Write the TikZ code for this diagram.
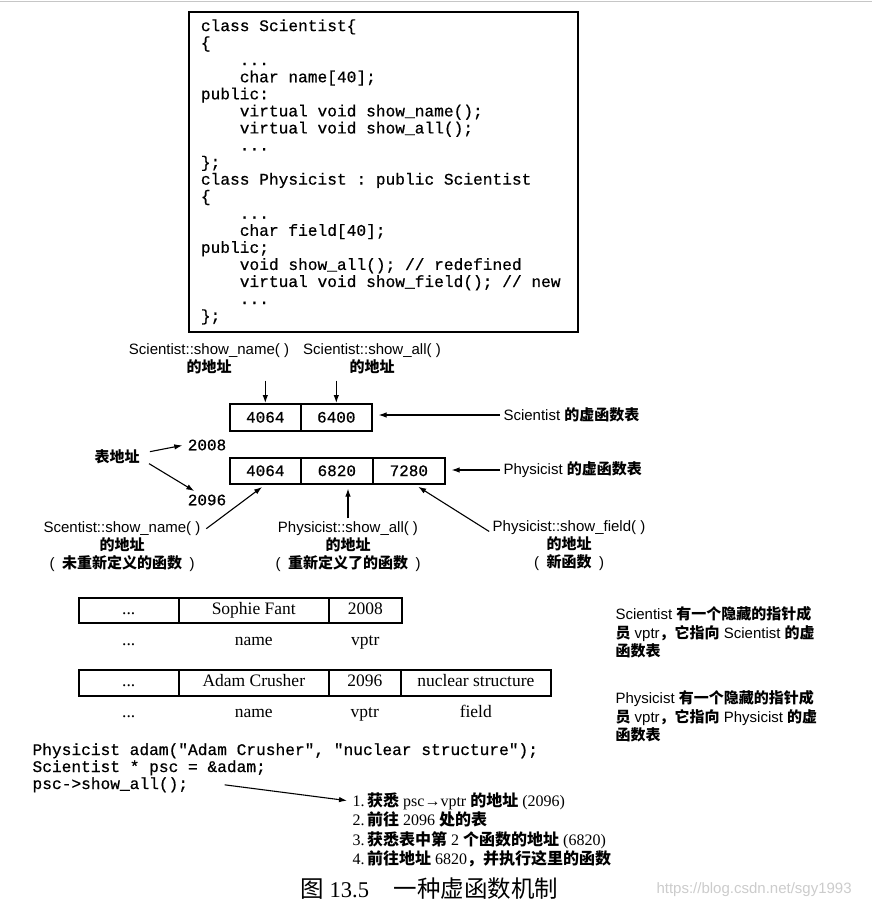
\documentclass[tikz,border=0pt]{standalone}
\usepackage{fontspec}
\usetikzlibrary{arrows.meta,positioning}
\newfontfamily\fsans{Liberation Sans}
\newfontfamily\fserif{Liberation Serif}
\newfontfamily\fcode{Liberation Mono}[FakeBold=0.6]
\newfontfamily\fzh{Noto Sans CJK SC}
\newcommand\zh[1]{{\fzh\bfseries #1}}
\newcommand\sk{\hspace*{0.6em}}
\newcommand\ind{\sk\sk\sk\sk}
\begin{document}
\begin{tikzpicture}[x=1pt, y=-1pt,
  arr/.style={-{Latex[length=8pt,width=5.5pt]}, line width=1.1pt},
  codetxt/.style={font=\fcode\fontsize{16.2}{17.06}\selectfont},
  num/.style={font=\fcode\fontsize{16}{18}\selectfont},
  cell/.style={draw, line width=1.6pt, minimum height=27pt, inner sep=0pt,
    anchor=north west, num},
  lbl/.style={align=center, font=\fsans\fontsize{15}{18}\selectfont},
  rec/.style={draw, line width=1.6pt, minimum height=26pt, inner sep=0pt,
    anchor=north west, fld},
  fld/.style={text height=12pt, text depth=4pt,
    font=\fserif\fontsize{17.5}{20}\selectfont},
  note/.style={align=left, anchor=north west,
    font=\fsans\fontsize{15}{18.5}\selectfont},
  stepline/.style={anchor=base west, font=\fserif\fontsize{16}{19}\selectfont}]
  \fill [white] (0, 0) rectangle (872, 907);
  \useasboundingbox (0, 0) rectangle (872, 907);
  \draw [gray!45, line width=1pt] (0, 1.5) -- (872, 1.5);

  % Class declarations
  \node [codetxt, draw, line width=1.8pt, anchor=north west, align=left,
    text width=365pt, inner xsep=12pt, minimum height=320pt] (decl) at (188, 11)
    {class\sk Scientist\{\\
     \{\\
     \ind...\\
     \ind char\sk name[40];\\
     public:\\
     \ind virtual\sk void\sk show\_name();\\
     \ind virtual\sk void\sk show\_all();\\
     \ind...\\
     \};\\
     class\sk Physicist\sk :\sk public\sk Scientist\\
     \{\\
     \ind...\\
     \ind char\sk field[40];\\
     public;\\
     \ind void\sk show\_all();\sk //\sk redefined\\
     \ind virtual\sk void\sk show\_field();\sk //\sk new\\
     \ind...\\
     \};};

  % Scientist vtable
  \node [cell, minimum width=71pt] (s1) at (229, 403) {4064};
  \node [cell, minimum width=71pt] (s2) at (300, 403) {6400};
  \node [lbl] (sname) at (209, 359) {Scientist::show\_name( )\\\zh{的地址}};
  \node [lbl] (sall) at (372, 359) {Scientist::show\_all( )\\\zh{的地址}};
  \draw [arr, shorten <=3pt] (sname.south -| s1.north) -- (s1.north);
  \draw [arr, shorten <=3pt] (sall.south -| s2.north) -- (s2.north);
  \node [lbl, anchor=west] (stab) at (500, 415) {Scientist \zh{的虚函数表}};
  \draw [arr, shorten >=6pt] (stab.west) -- (stab.west -| s2.east);

  % Physicist vtable
  \node [cell, minimum width=71pt, minimum height=26pt] (p1) at (229, 457) {4064};
  \node [cell, minimum width=72pt, minimum height=26pt] (p2) at (300, 457) {6820};
  \node [cell, minimum width=72pt, minimum height=26pt] (p3) at (372, 457) {7280};
  \node [lbl, anchor=west] (ptab) at (500, 470) {Physicist \zh{的虚函数表}};
  \draw [arr, shorten >=6pt] (ptab.west) -- (ptab.west -| p3.east);

  % Table addresses
  \node [lbl] (addr) at (117, 457) {\zh{表地址}};
  \node [num] (t2008) at (207, 445) {2008};
  \node [num] (t2096) at (207, 500) {2096};
  \draw [arr, shorten <=7pt, shorten >=2pt] ([yshift=4pt]addr.east) -- (t2008.west);
  \draw [arr, shorten <=7pt] ([yshift=-3pt]addr.east)
        -- ([xshift=10pt]t2096.north west);

  % Physicist function addresses
  \node [lbl] (pname) at (122, 547)
        {Scentist::show\_name( )\\\zh{的地址}\\(\enspace\zh{未重新定义的函数}\enspace)};
  \node [lbl] (pall) at (348, 547)
        {Physicist::show\_all( )\\\zh{的地址}\\(\enspace\zh{重新定义了的函数}\enspace)};
  \node [lbl] (pfield) at (569, 546)
        {Physicist::show\_field( )\\\zh{的地址}\\(\enspace\zh{新函数}\enspace)};
  \draw [arr, shorten <=3pt, shorten >=4pt] ([yshift=-12pt]pname.north east)
        -- (p1.south);
  \draw [arr, shorten >=4pt] (pall.north) -- (pall.north |- p2.south);
  \draw [arr, shorten >=4pt] ([yshift=-14pt]pfield.north west)
        -- ([xshift=6pt]p3.south);

  % Scientist object
  \node [rec, minimum width=100pt, minimum height=25pt] (a1) at (78, 597) {...};
  \node [rec, minimum width=150pt, minimum height=25pt] (a2) at (178, 597) {Sophie Fant};
  \node [rec, minimum width=73pt, minimum height=25pt] (a3) at (328, 597) {2008};
  \node [fld] (a1l) at ([yshift=-18pt]a1.south) {...};
  \node [fld] (a2l) at ([yshift=-18pt]a2.south) {name};
  \node [fld] (a3l) at ([yshift=-18pt]a3.south) {vptr};

  % Physicist object
  \node [rec, minimum width=100pt] (b1) at (78, 669) {...};
  \node [rec, minimum width=150pt] (b2) at (178, 669) {Adam Crusher};
  \node [rec, minimum width=72pt] (b3) at (328, 669) {2096};
  \node [rec, minimum width=150pt] (b4) at (400, 669) {nuclear structure};
  \node [fld] (b1l) at ([yshift=-17pt]b1.south) {...};
  \node [fld] (b2l) at ([yshift=-17pt]b2.south) {name};
  \node [fld] (b3l) at ([yshift=-17pt]b3.south) {vptr};
  \node [fld] (b4l) at ([yshift=-17pt]b4.south) {field};

  % Notes
  \node [note] (snote) at (612, 603)
        {Scientist \zh{有一个隐藏的指针成}\\\zh{员} vptr\zh{，它指向} Scientist \zh{的虚}\\\zh{函数表}};
  \node [note] (pnote) at (612, 687)
        {Physicist \zh{有一个隐藏的指针成}\\\zh{员} vptr\zh{，它指向} Physicist \zh{的虚}\\\zh{函数表}};

  % Call through base pointer
  \node [codetxt, anchor=base west] (c1) at (29, 755)
        {Physicist\sk adam("Adam\sk Crusher",\sk "nuclear\sk structure");};
  \node [codetxt, anchor=base west] (c2) at (29, 772)
        {Scientist\sk *\sk psc\sk =\sk \&adam;};
  \node [codetxt, anchor=base west] (c3) at (29, 789) {psc->show\_all();};
  \node [stepline] (st1) at (349, 806)
        {1.\,\zh{获悉} psc→vptr \zh{的地址} (2096)};
  \node [stepline] (st2) at (349, 825) {2.\,\zh{前往} 2096 \zh{处的表}};
  \node [stepline] (st3) at (349, 845)
        {3.\,\zh{获悉表中第} 2 \zh{个函数的地址} (6820)};
  \node [stepline] (st4) at (349, 864)
        {4.\,\zh{前往地址} 6820\zh{，并执行这里的函数}};
  \draw [arr, shorten >=2pt] ([xshift=33pt]c3.east) -- (st1.west);

  % Caption
  \node [anchor=base west, font=\fserif\fontsize{22.5}{26}\selectfont] (cap) at (297, 897)
        {{\fzh\fontsize{23.5}{26}\selectfont 图} 13.5\hspace{1.1em}{\fzh\fontsize{23.5}{26}\selectfont 一种虚函数机制}};
  \node [anchor=base west, text=gray!40, font=\fsans\fontsize{15}{18}\selectfont]
        (wm) at (653, 893) {https://blog.csdn.net/sgy1993};
\end{tikzpicture}
\end{document}
